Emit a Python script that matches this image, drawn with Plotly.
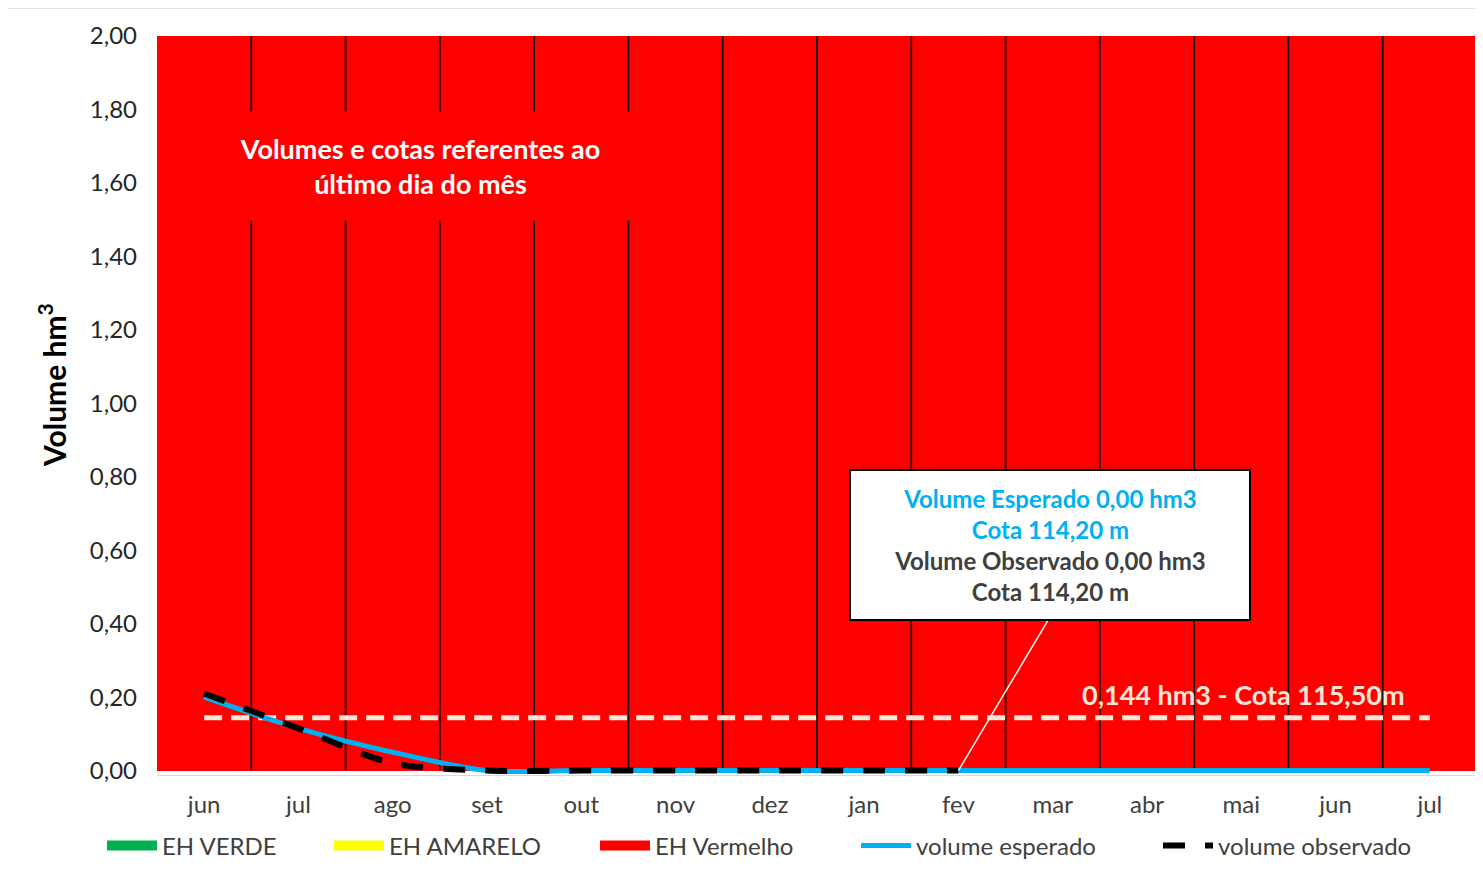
import plotly.graph_objects as go

months = ["jun", "jul", "ago", "set", "out", "nov", "dez", "jan", "fev", "mar", "abr", "mai", "jun", "jul"]
x_idx = list(range(len(months)))

eh_verde = [0.0] * 14
eh_amarelo = [0.0] * 14
eh_vermelho = [2.0] * 14

volume_esperado = [0.20, 0.115, 0.05, 0.0, 0.0, 0.0, 0.0, 0.0, 0.0, 0.0, 0.0, 0.0, 0.0, 0.0]
volume_observado = [0.21, 0.115, 0.02, 0.0, 0.0, 0.0, 0.0, 0.0, 0.0]
nivel_referencia = [0.144] * 14

FONT = "Lato"
TXT = "#404040"

# plot-area pixel geometry (screen) used to place paper-referenced texts
TOP_PX, BOT_PX, LEFT_PX, W_PX = 36, 775.0, 157, 1320
H_PX = BOT_PX - TOP_PX
def px_x(p):
    return (p - LEFT_PX) / W_PX
def px_y(p):
    return (BOT_PX - p) / H_PX

fig = go.Figure()

bar_series = [("EH VERDE", eh_verde, "#00B050", "legend"),
              ("EH AMARELO", eh_amarelo, "#FFFF00", "legend2"),
              ("EH Vermelho", eh_vermelho, "#FF0000", "legend3")]
for name, vals, col, lg in bar_series:
    fig.add_trace(go.Bar(x=x_idx, y=vals, name=name, showlegend=False,
                         marker=dict(color=col, line=dict(width=0)), width=1))

# separators between month columns
sx, sy = [], []
for i in x_idx:
    sx += [i + 0.5, i + 0.5, None]
    sy += [0, 2, None]
fig.add_trace(go.Scatter(x=sx, y=sy, mode="lines", line=dict(color="#111111", width=1.8),
                         showlegend=False, hoverinfo="skip"))

fig.add_trace(go.Scatter(x=x_idx, y=nivel_referencia, mode="lines",
                         line=dict(color="#FBE5D6", width=5, dash="18px,9px"),
                         showlegend=False, hoverinfo="skip"))

fig.add_trace(go.Scatter(x=x_idx, y=volume_esperado, mode="lines", name="volume esperado", legend="legend4",
                         line=dict(color="#00B0F0", width=5, shape="spline", smoothing=0.8)))
fig.add_trace(go.Scatter(x=x_idx[:len(volume_observado)], y=volume_observado, mode="lines",
                         name="volume observado", legend="legend5",
                         line=dict(color="#000000", width=6, dash="22px,20px", shape="spline", smoothing=0.8)))

# legend keys for the bar series (wide rectangles like the original)
for name, vals, col, lg in bar_series:
    fig.add_trace(go.Scatter(x=[None], y=[None], mode="lines", name=name, legend=lg,
                             line=dict(color=col, width=14), hoverinfo="skip"))

LEG_Y = px_y(846)
def leg(xpx):
    return dict(orientation="h", x=px_x(xpx), xanchor="left", y=LEG_Y, yanchor="middle",
                font=dict(family=FONT, size=24, color=TXT), itemwidth=50, bgcolor="rgba(0,0,0,0)")

fig.update_layout(
    width=1475, height=872,
    margin=dict(l=149, r=6, t=28, b=105),
    barmode="stack", bargap=0,
    plot_bgcolor="white", paper_bgcolor="white",
    separators=",.",
    font=dict(family=FONT, size=24, color=TXT),
    xaxis=dict(range=[-0.5, 13.5], tickvals=x_idx, ticktext=months, showgrid=False,
               zeroline=False, showline=True, linecolor="#D9D9D9", linewidth=1,
               tickfont=dict(family=FONT, size=24, color=TXT), ticks="", ticklabelstandoff=8),
    yaxis=dict(range=[-0.012, 2], tickvals=[round(0.2 * k, 1) for k in range(11)], tickformat=".2f",
               showgrid=False, zeroline=False, showline=False,
               tickfont=dict(family=FONT, size=24, color="#262626"), ticks="", ticklabelstandoff=19),
    legend=leg(102), legend2=leg(329), legend3=leg(595), legend4=leg(856), legend5=leg(1158),
    showlegend=True,
)

fig.add_annotation(xref="paper", yref="paper", x=px_x(52), y=px_y(385),
                   xanchor="center", yanchor="middle", text="<b>Volume hm<sup>3</sup></b>",
                   textangle=-90, showarrow=False, font=dict(family=FONT, size=30, color="#000000"))

fig.add_annotation(xref="paper", yref="paper", x=px_x(420), y=px_y(166),
                   xanchor="center", yanchor="middle",
                   text="<b>Volumes e cotas referentes ao<br>último dia do mês</b>",
                   showarrow=False, bgcolor="#FF0000", width=430, height=106,
                   font=dict(family=FONT, size=27, color="white"))

fig.add_annotation(xref="paper", yref="paper", x=px_x(1050), y=px_y(545),
                   xanchor="center", yanchor="middle",
                   text=("<b><span style='color:#00B0F0'>Volume Esperado 0,00 hm3</span><br>"
                         "<span style='color:#00B0F0'>Cota 114,20 m</span><br>"
                         "<span style='color:#404040'>Volume Observado 0,00 hm3</span><br>"
                         "<span style='color:#404040'>Cota 114,20 m</span></b>"),
                   showarrow=False, bgcolor="white", bordercolor="black", borderwidth=2,
                   width=396, height=146, font=dict(family=FONT, size=24))

fig.add_annotation(x=8, y=volume_observado[8], text="", showarrow=True, arrowhead=0,
                   arrowcolor="white", arrowwidth=1.5, ax=90, ay=-151, standoff=0)

fig.add_annotation(x=11.02, y=0.207, text="<b>0,144 hm3 - Cota 115,50m</b>", showarrow=False,
                   xanchor="center", yanchor="middle",
                   font=dict(family=FONT, size=27, color="#FBE5D6"))

fig.add_shape(type="rect", xref="paper", yref="paper", x0=px_x(5), x1=px_x(1480),
              y0=-0.2, y1=px_y(8),
              line=dict(color="#D9D9D9", width=1.5), fillcolor="rgba(0,0,0,0)", layer="below")

fig.write_html("out.html")
